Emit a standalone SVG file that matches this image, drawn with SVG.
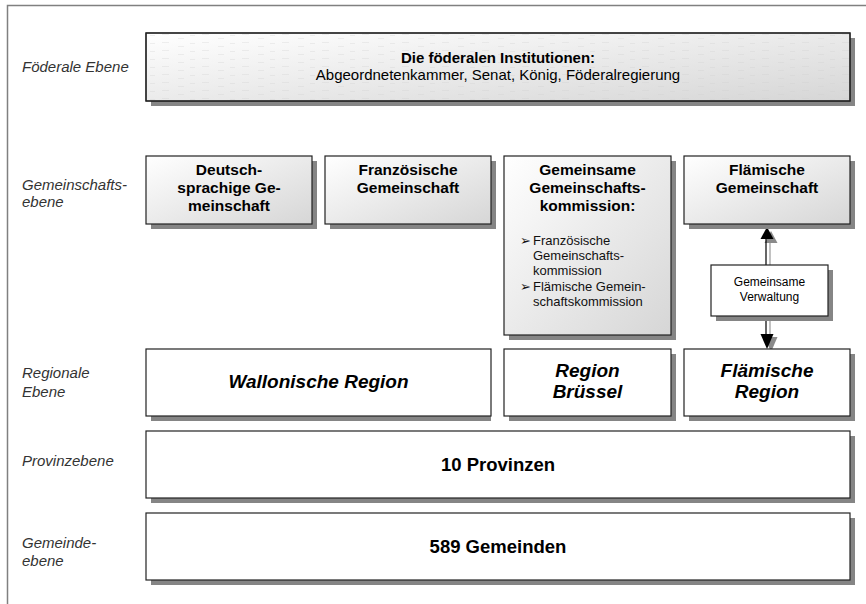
<svg xmlns="http://www.w3.org/2000/svg" width="866" height="604" viewBox="0 0 866 604">
<defs>
<linearGradient id="g" x1="0" y1="0" x2="1" y2="1">
<stop offset="0" stop-color="#ffffff"/>
<stop offset="1" stop-color="#d6d6d6"/>
</linearGradient>
<pattern id="tex" width="40" height="8" patternUnits="userSpaceOnUse">
<rect x="2" y="2" width="7" height="1" fill="#d0d0d0" opacity="0.3"/>
<rect x="18" y="6" width="6" height="1" fill="#d0d0d0" opacity="0.3"/>
<rect x="30" y="3" width="5" height="1" fill="#d0d0d0" opacity="0.3"/>
</pattern>
</defs>
<style>
.sh{fill:#858585}
.bx{stroke:#222;stroke-width:1.2}
.gr{fill:url(#g)}
.wh{fill:#fff}
.lbl{font-family:"Liberation Sans",Arial,sans-serif;font-style:italic;font-size:15px;fill:#333}
.t{font-family:"Liberation Sans",Arial,sans-serif;fill:#000;text-anchor:middle}
.b{font-weight:bold}
.bi{font-weight:bold;font-style:italic}
.sm{font-family:"Liberation Sans",Arial,sans-serif;font-size:13px;fill:#111}
</style>
<rect width="866" height="604" fill="#fff"/>
<path d="M7.5 604 V5.5 H866" fill="none" stroke="#808080" stroke-width="1.5"/>

<g id="labels">
<text class="lbl" x="22" y="72" font-size="16">Föderale Ebene</text>
<text class="lbl" x="22" y="190">Gemeinschafts-</text>
<text class="lbl" x="22" y="207">ebene</text>
<text class="lbl" x="22" y="378">Regionale</text>
<text class="lbl" x="22" y="397">Ebene</text>
<text class="lbl" x="22" y="466">Provinzebene</text>
<text class="lbl" x="22" y="548">Gemeinde-</text>
<text class="lbl" x="22" y="566">ebene</text>
</g>

<g id="connectors">
<line x1="770" y1="243" x2="770" y2="266" stroke="#999" stroke-width="1.2"/>
<polygon points="771,231 777.5,243 764.5,243" fill="#8a8a8a"/>
<line x1="766" y1="239" x2="766" y2="266" stroke="#000" stroke-width="1.2"/>
<polygon points="767,227 773.5,239 760.5,239" fill="#000"/>
<line x1="770" y1="317" x2="770" y2="337" stroke="#999" stroke-width="1.2"/>
<polygon points="771,352 777.5,337 764.5,337" fill="#8a8a8a"/>
<line x1="766" y1="317" x2="766" y2="334" stroke="#000" stroke-width="1.2"/>
<polygon points="767,349 773.5,334 760.5,334" fill="#000"/>
</g>

<g id="federal">
<rect class="sh" x="151" y="38" width="704" height="68"/>
<rect class="bx gr" x="146" y="33" width="704" height="68"/>
<rect x="147" y="34" width="702" height="66" fill="url(#tex)"/>
<rect x="146" y="33" width="704" height="68" fill="none" stroke="#222" stroke-width="1.2"/>
<text class="t b" x="498" y="63" font-size="15">Die föderalen Institutionen:</text>
<text class="t" x="498" y="80" font-size="15">Abgeordnetenkammer, Senat, König, Föderalregierung</text>
</g>

<g id="deutsch">
<rect class="sh" x="151" y="161" width="166" height="68"/>
<rect class="bx gr" x="146" y="156" width="166" height="68"/>
<text class="t b" x="229" y="175" font-size="15.5">Deutsch-</text>
<text class="t b" x="229" y="193" font-size="15.5">sprachige Ge-</text>
<text class="t b" x="229" y="211" font-size="15.5">meinschaft</text>
</g>

<g id="franz">
<rect class="sh" x="330" y="161" width="166" height="68"/>
<rect class="bx gr" x="325" y="156" width="166" height="68"/>
<text class="t b" x="408" y="175" font-size="15.5">Französische</text>
<text class="t b" x="408" y="193" font-size="15.5">Gemeinschaft</text>
</g>

<g id="gemeinsam">
<rect class="sh" x="509" y="161" width="167" height="179"/>
<rect class="bx gr" x="504" y="156" width="167" height="179"/>
<text class="t b" x="587.5" y="175" font-size="15.5">Gemeinsame</text>
<text class="t b" x="587.5" y="193" font-size="15.5">Gemeinschafts-</text>
<text class="t b" x="587.5" y="211" font-size="15.5">kommission:</text>
<text class="sm" x="520" y="245" font-size="10">➢</text>
<text class="sm" x="533" y="245">Französische</text>
<text class="sm" x="533" y="260">Gemeinschafts-</text>
<text class="sm" x="533" y="275">kommission</text>
<text class="sm" x="520" y="291" font-size="10">➢</text>
<text class="sm" x="533" y="291">Flämische Gemein-</text>
<text class="sm" x="533" y="306">schaftskommission</text>
</g>

<g id="flaem-gem">
<rect class="sh" x="689" y="161" width="166" height="68"/>
<rect class="bx gr" x="684" y="156" width="166" height="68"/>
<text class="t b" x="767" y="175" font-size="15.5">Flämische</text>
<text class="t b" x="767" y="193" font-size="15.5">Gemeinschaft</text>
</g>

<g id="verwaltung">
<rect class="sh" x="716" y="270" width="117" height="51"/>
<rect class="bx wh" x="711" y="265" width="117" height="51"/>
<text class="t" x="769.5" y="286" font-size="12">Gemeinsame</text>
<text class="t" x="769.5" y="301" font-size="12">Verwaltung</text>
</g>

<g id="wallon">
<rect class="sh" x="151" y="354" width="340" height="67"/>
<rect class="bx wh" x="146" y="349" width="345" height="67"/>
<text class="t bi" x="318.5" y="388" font-size="19">Wallonische Region</text>
</g>

<g id="bruessel">
<rect class="sh" x="509" y="354" width="167" height="67"/>
<rect class="bx wh" x="504" y="349" width="167" height="67"/>
<text class="t bi" x="587.5" y="377" font-size="19">Region</text>
<text class="t bi" x="587.5" y="398" font-size="19">Brüssel</text>
</g>

<g id="flaem-reg">
<rect class="sh" x="689" y="354" width="166" height="67"/>
<rect class="bx wh" x="684" y="349" width="166" height="67"/>
<text class="t bi" x="767" y="377" font-size="19">Flämische</text>
<text class="t bi" x="767" y="398" font-size="19">Region</text>
</g>

<g id="provinzen">
<rect class="sh" x="151" y="436" width="704" height="67"/>
<rect class="bx wh" x="146" y="431" width="704" height="67"/>
<text class="t b" x="498" y="471" font-size="18.5">10 Provinzen</text>
</g>

<g id="gemeinden">
<rect class="sh" x="151" y="518" width="704" height="67"/>
<rect class="bx wh" x="146" y="513" width="704" height="67"/>
<text class="t b" x="498" y="553" font-size="18.5">589 Gemeinden</text>
</g>
</svg>
